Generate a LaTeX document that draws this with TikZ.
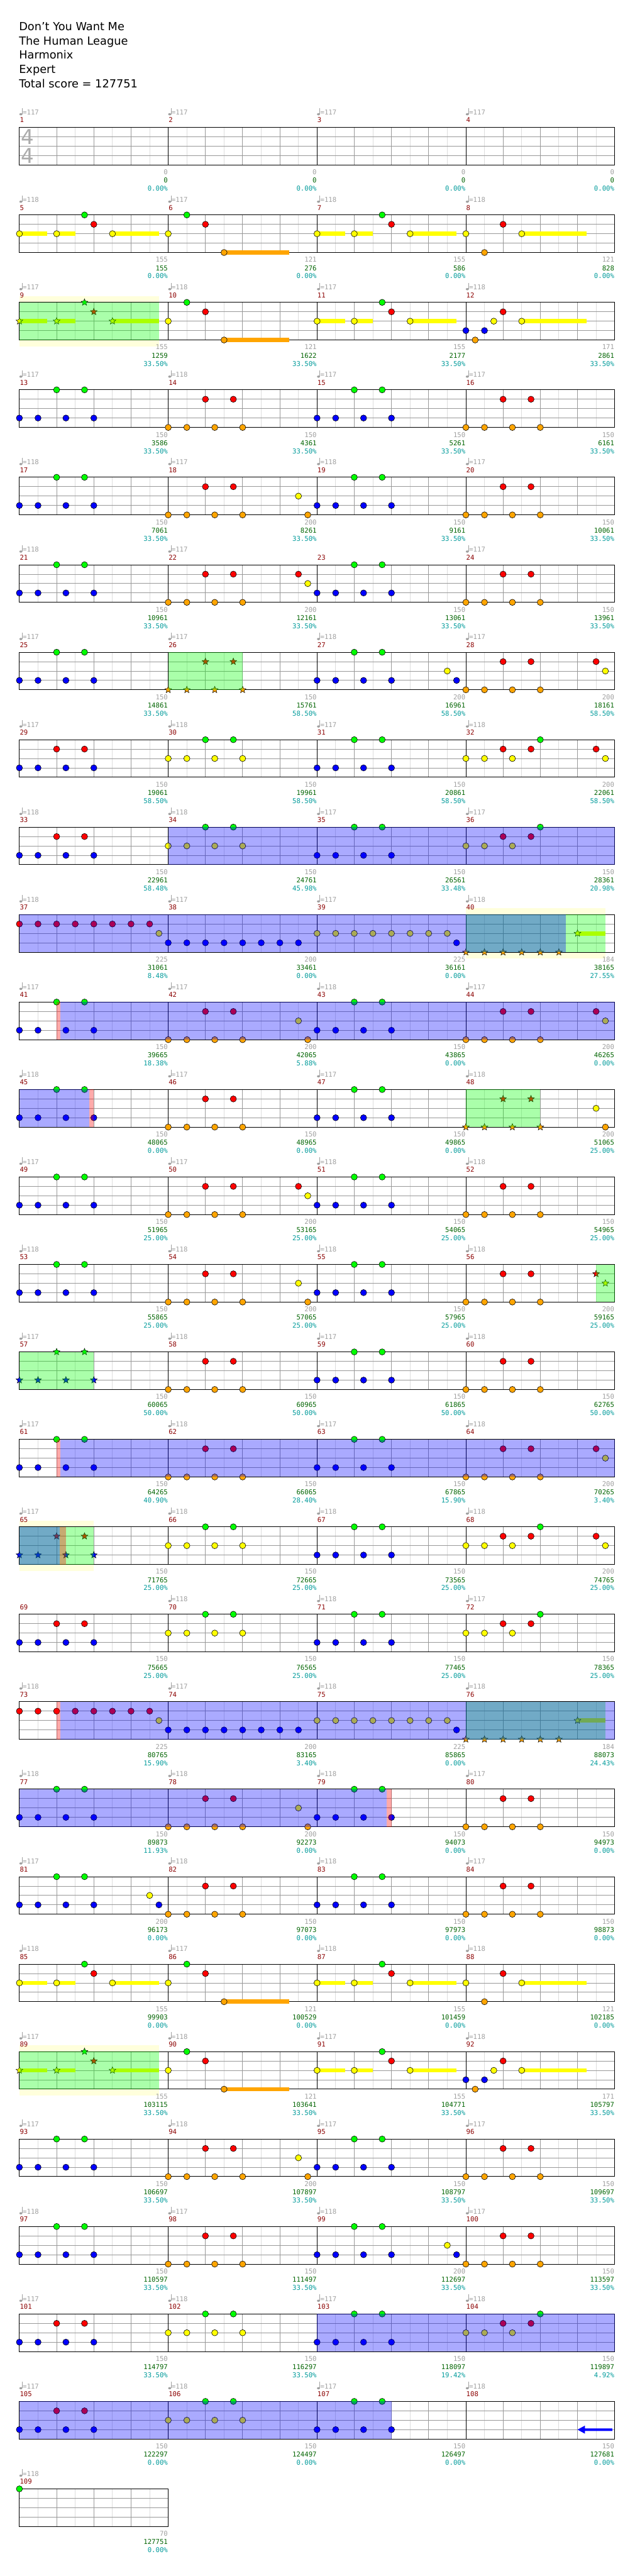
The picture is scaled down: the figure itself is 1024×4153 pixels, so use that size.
\documentclass[tikz,border=0pt]{standalone}
\usepackage{fontspec}
\setmainfont{DejaVu Sans}
\newfontfamily\chartmono{DejaVu Sans Mono}
\usetikzlibrary{shapes.geometric}
\definecolor{fret0}{RGB}{0,255,0}
\definecolor{fret1}{RGB}{255,0,0}
\definecolor{fret2}{RGB}{255,255,0}
\definecolor{fret3}{RGB}{0,0,255}
\definecolor{fret4}{RGB}{255,165,0}
\definecolor{barnum}{RGB}{139,0,0}
\definecolor{tempogray}{RGB}{160,160,160}
\definecolor{scoregreen}{RGB}{0,100,0}
\definecolor{pctcyan}{RGB}{0,155,155}
\definecolor{bandyellow}{RGB}{255,255,220}
\definecolor{eighthgray}{RGB}{221,221,221}
\definecolor{quartergray}{RGB}{153,153,153}

% measure -> top left corner of its staff
\newcommand{\setmeasure}[1]{%
  \pgfmathtruncatemacro\mcol{mod(#1-1,4)}%
  \pgfmathtruncatemacro\mrow{(#1-1)/4}%
  \pgfmathsetmacro\mx{31.3+240*\mcol}%
  \pgfmathsetmacro\my{205.5+141*\mrow}}
\newcommand{\gems}[2]{\setmeasure{#1}\edef\gemlist{#2}%
  \foreach \gl/\gt in \gemlist {\draw[gem,fill=fret\gl] (\mx+15*\gt,\my+15.15*\gl) circle[radius=5pt];}}
\newcommand{\stargems}[2]{\setmeasure{#1}\edef\gemlist{#2}%
  \foreach \gl/\gt in \gemlist {\node[spstar,fill=fret\gl] at (\mx+15*\gt,\my+15.15*\gl) {};}}
\newcommand{\sustain}[4]{\setmeasure{#1}%
  \fill[fret#2] (\mx+15*#3,\my+15.15*#2-3.4) rectangle (\mx+15*#4,\my+15.15*#2+3.4);}
\newcommand{\zone}[4]{\setmeasure{#1}%
  \fill[#4,fill opacity=0.333] (\mx+15*#2,\my) rectangle (\mx+15*#3,\my+60.6);}
\newcommand{\band}[3]{\setmeasure{#1}%
  \fill[bandyellow] (\mx+15*#2,\my-10) rectangle (\mx+15*#3,\my+70.8);}
\newcommand{\mlabels}[5]{\setmeasure{#1}%
  \ifnum#2>0\relax
    \fill[tempogray] (\mx+2.3,\my-21.3) ellipse[x radius=2.4pt,y radius=1.8pt];
    \draw[tempogray,line width=0.8pt] (\mx+4.4,\my-21.3) -- (\mx+4.4,\my-31.5);
    \node[smalltext,anchor=base west,text=tempogray] at (\mx+5.2,\my-20.4) {=#2};
  \fi
  \node[smalltext,anchor=base west,text=barnum] at (\mx+0.5,\my-7.8) {#1};
  \node[smalltext,anchor=base east,text=tempogray] at (\mx+239.5,\my+76.2) {#3};
  \node[smalltext,anchor=base east,text=scoregreen] at (\mx+239.5,\my+89.5) {#4};
  \node[smalltext,anchor=base east,text=pctcyan] at (\mx+239.5,\my+102.6) {#5\%};}
\newcommand{\riffA}{3/0,3/2,3/5,3/8,0/4,0/7}
\newcommand{\riffB}{4/0,4/2,4/5,4/8,1/4,1/7}
\newcommand{\riffC}{3/0,3/2,3/5,3/8,1/4,1/7}
\newcommand{\riffD}{2/0,2/2,2/5,2/8,0/4,0/7}
\newcommand{\riffE}{2/0,2/2,2/5,1/4,1/7,0/8}
\newcommand{\riffF}{2/0,2/4,0/7,1/8,2/10}

\begin{document}
\begin{tikzpicture}[x=1pt,y=-1pt,
  gem/.style={draw=black,line width=0.6pt},
  spstar/.style={star,star points=5,star point ratio=2.3,minimum size=11.5pt,inner sep=0pt,draw=black,line width=0.5pt},
  smalltext/.style={inner sep=0pt,font=\chartmono\fontsize{10.8}{12}\selectfont},
  titletext/.style={anchor=base west,inner sep=0pt,font=\fontsize{18}{22}\selectfont}]
\useasboundingbox[fill=white] (0,0) rectangle (1024,4153);

\node[titletext] (song) at (30.5,49.3) {Don't You Want Me};
\node[titletext] (artist) at (30.5,72.3) {The Human League};
\node[titletext] (charter) at (30.5,95.3) {Harmonix};
\node[titletext] (level) at (30.5,118.3) {Expert};
\node[titletext] (total) at (30.5,141.3) {Total score = 127751};

% star power bands behind the staves
\band{9}{0}{15}
\band{40}{0}{15}
\band{65}{0}{8}
\band{89}{0}{15}

% staves
\foreach \r in {0,...,27}{
  \pgfmathsetmacro\yt{205.5+141*\r}
  \ifnum\r<27 \def\xe{991.3}\def\kq{15}\def\ke{31}\def\km{3}\else \def\xe{271.3}\def\kq{3}\def\ke{7}\def\km{0}\fi
  \fill[white] (31.3,\yt) rectangle (\xe,\yt+60.6);
  \foreach \k in {1,3,...,\ke} \draw[eighthgray,line width=0.9pt] (31.3+30*\k,\yt) -- ++(0,60.6);
  \foreach \k in {1,...,\kq} \draw[quartergray,line width=0.9pt] (31.3+60*\k,\yt) -- ++(0,60.6);
  \foreach \k in {1,2,3} \draw[quartergray,line width=0.9pt] (31.3,\yt+15.15*\k) -- (\xe,\yt+15.15*\k);
  \ifnum\km>0 \foreach \k in {1,...,\km} \draw[black,line width=0.9pt] (31.3+240*\k,\yt) -- ++(0,60.6); \fi
  \draw[black,line width=1pt] (31.3,\yt) rectangle (\xe,\yt+60.6);
}
\node[text=black!33,font=\fontsize{33}{33}\selectfont,inner sep=0pt] (numer) at (44.7,221) {4};
\node[text=black!33,font=\fontsize{33}{33}\selectfont,inner sep=0pt] (denom) at (44.7,250.7) {4};

% measure labels
\foreach \m/\tp/\a/\b/\c in {1/117/0/0/0.00,2/117/0/0/0.00,3/117/0/0/0.00,4/117/0/0/0.00,
  5/118/155/155/0.00,6/117/121/276/0.00,7/118/155/586/0.00,8/118/121/828/0.00,
  9/117/155/1259/33.50,10/118/121/1622/33.50,11/117/155/2177/33.50,12/118/171/2861/33.50,
  13/117/150/3586/33.50,14/118/150/4361/33.50,15/117/150/5261/33.50,16/117/150/6161/33.50,
  17/118/150/7061/33.50,18/117/200/8261/33.50,19/118/150/9161/33.50,20/117/150/10061/33.50,
  21/118/150/10961/33.50,22/117/200/12161/33.50,23/0/150/13061/33.50,24/117/150/13961/33.50,
  25/117/150/14861/33.50,26/117/150/15761/58.50,27/118/200/16961/58.50,28/117/200/18161/58.50,
  29/117/150/19061/58.50,30/118/150/19961/58.50,31/117/150/20861/58.50,32/118/200/22061/58.50,
  33/118/150/22961/58.48,34/118/150/24761/45.98,35/117/150/26561/33.48,36/117/150/28361/20.98,
  37/118/225/31061/8.48,38/117/200/33461/0.00,39/117/225/36161/0.00,40/118/184/38165/27.55,
  41/117/150/39665/18.38,42/117/200/42065/5.88,43/118/150/43865/0.00,44/117/200/46265/0.00,
  45/118/150/48065/0.00,46/117/150/48965/0.00,47/117/150/49865/0.00,48/118/200/51065/25.00,
  49/117/150/51965/25.00,50/117/200/53165/25.00,51/118/150/54065/25.00,52/118/150/54965/25.00,
  53/118/150/55865/25.00,54/118/200/57065/25.00,55/118/150/57965/25.00,56/118/200/59165/25.00,
  57/117/150/60065/50.00,58/118/150/60965/50.00,59/117/150/61865/50.00,60/118/150/62765/50.00,
  61/117/150/64265/40.90,62/118/150/66065/28.40,63/117/150/67865/15.90,64/118/200/70265/3.40,
  65/117/150/71765/25.00,66/118/150/72665/25.00,67/118/150/73565/25.00,68/118/200/74765/25.00,
  69/0/150/75665/25.00,70/118/150/76565/25.00,71/118/150/77465/25.00,72/117/150/78365/25.00,
  73/118/225/80765/15.90,74/117/200/83165/3.40,75/118/225/85865/0.00,76/118/184/88073/24.43,
  77/118/150/89873/11.93,78/118/200/92273/0.00,79/118/150/94073/0.00,80/117/150/94973/0.00,
  81/117/200/96173/0.00,82/118/150/97073/0.00,83/118/150/97973/0.00,84/117/150/98873/0.00,
  85/118/155/99903/0.00,86/117/121/100529/0.00,87/118/155/101459/0.00,88/118/121/102185/0.00,
  89/117/155/103115/33.50,90/118/121/103641/33.50,91/117/155/104771/33.50,92/118/171/105797/33.50,
  93/117/150/106697/33.50,94/118/200/107897/33.50,95/117/150/108797/33.50,96/117/150/109697/33.50,
  97/118/150/110597/33.50,98/117/150/111497/33.50,99/118/200/112697/33.50,100/117/150/113597/33.50,
  101/117/150/114797/33.50,102/118/150/116297/33.50,103/117/150/118097/19.42,104/118/150/119897/4.92,
  105/117/150/122297/0.00,106/118/150/124497/0.00,107/117/150/126497/0.00,108/118/150/127681/0.00,
  109/118/70/127751/0.00}
  \mlabels{\m}{\tp}{\a}{\b}{\c};

% measures 5-12
\sustain{5}{2}{0}{3}\sustain{5}{2}{4}{6}\sustain{5}{2}{10}{15}
\gems{5}{\riffF}
\sustain{6}{4}{6}{13}
\gems{6}{2/0,0/2,1/4,4/6}
\sustain{7}{2}{0}{3}\sustain{7}{2}{4}{6}\sustain{7}{2}{10}{15}
\gems{7}{\riffF}
\sustain{8}{2}{6}{13}
\gems{8}{2/0,4/2,1/4,2/6}
\sustain{9}{2}{0}{3}\sustain{9}{2}{4}{6}\sustain{9}{2}{10}{15}
\stargems{9}{\riffF}
\zone{9}{0}{15}{fret0}
\sustain{10}{4}{6}{13}
\gems{10}{2/0,0/2,1/4,4/6}
\sustain{11}{2}{0}{3}\sustain{11}{2}{4}{6}\sustain{11}{2}{10}{15}
\gems{11}{\riffF}
\sustain{12}{2}{6}{13}
\gems{12}{3/0,4/1,3/2,2/3,1/4,2/6}

% measures 13-36
\gems{13}{\riffA}\gems{14}{\riffB}\gems{15}{\riffA}\gems{16}{\riffB}
\gems{17}{\riffA}\gems{18}{\riffB,2/14,4/15}\gems{19}{\riffA}\gems{20}{\riffB}
\gems{21}{\riffA}\gems{22}{\riffB,1/14,2/15}\gems{23}{\riffA}\gems{24}{\riffB}
\gems{25}{\riffA}\stargems{26}{\riffB}\zone{26}{0}{8}{fret0}
\gems{27}{\riffA,2/14,3/15}\gems{28}{\riffB,1/14,2/15}
\gems{29}{\riffC}\gems{30}{\riffD}\gems{31}{\riffA}\gems{32}{\riffE,1/14,2/15}
\gems{33}{\riffC}\gems{34}{\riffD}\gems{35}{\riffA}\gems{36}{\riffE}
\zone{34}{0}{48}{fret3}

% measures 37-60
\gems{37}{1/0,1/2,1/4,1/6,1/8,1/10,1/12,1/14,2/15}
\gems{38}{3/0,3/2,3/4,3/6,3/8,3/10,3/12,3/14}
\gems{39}{2/0,2/2,2/4,2/6,2/8,2/10,2/12,2/14,3/15}
\sustain{40}{2}{12}{15}
\stargems{40}{4/0,4/2,4/4,4/6,4/8,4/10,2/12}
\zone{40}{0}{15}{fret0}\zone{37}{0}{58.75}{fret3}
\gems{41}{\riffA}\gems{42}{\riffB,2/14,4/15}\gems{43}{\riffA}\gems{44}{\riffB,1/14,2/15}
\zone{41}{4}{4.4}{fret1}\zone{41}{4.4}{64}{fret3}
\gems{45}{\riffA}\gems{46}{\riffB}\gems{47}{\riffA}
\stargems{48}{\riffB}\gems{48}{2/14,4/15}
\zone{45}{0}{7.5}{fret3}\zone{45}{7.5}{8}{fret1}\zone{48}{0}{8}{fret0}
\gems{49}{\riffA}\gems{50}{\riffB,1/14,2/15}\gems{51}{\riffA}\gems{52}{\riffB}
\gems{53}{\riffA}\gems{54}{\riffB,2/14,4/15}\gems{55}{\riffA}\gems{56}{\riffB}
\stargems{56}{1/14,2/15}\zone{56}{14}{16}{fret0}
\stargems{57}{\riffA}\zone{57}{0}{8}{fret0}
\gems{58}{\riffB}\gems{59}{\riffA}\gems{60}{\riffB}

% measures 61-84
\gems{61}{\riffA}\gems{62}{\riffB}\gems{63}{\riffA}\gems{64}{\riffB,1/14,2/15}
\zone{61}{4}{4.4}{fret1}\zone{61}{4.4}{64}{fret3}
\stargems{65}{\riffC}
\zone{65}{0}{8}{fret0}\zone{65}{0}{4.35}{fret3}\zone{65}{4.35}{5}{fret1}
\gems{66}{\riffD}\gems{67}{\riffA}\gems{68}{\riffE,1/14,2/15}
\gems{69}{\riffC}\gems{70}{\riffD}\gems{71}{\riffA}\gems{72}{\riffE}
\gems{73}{1/0,1/2,1/4,1/6,1/8,1/10,1/12,1/14,2/15}
\gems{74}{3/0,3/2,3/4,3/6,3/8,3/10,3/12,3/14}
\gems{75}{2/0,2/2,2/4,2/6,2/8,2/10,2/12,2/14,3/15}
\sustain{76}{2}{12}{15}
\stargems{76}{4/0,4/2,4/4,4/6,4/8,4/10,2/12}
\zone{76}{0}{15}{fret0}\zone{73}{4}{4.4}{fret1}\zone{73}{4.4}{64}{fret3}
\gems{77}{\riffA}\gems{78}{\riffB,2/14,4/15}\gems{79}{\riffA}\gems{80}{\riffB}
\zone{77}{0}{39.5}{fret3}\zone{77}{39.5}{40}{fret1}
\gems{81}{\riffA,2/14,3/15}\gems{82}{\riffB}\gems{83}{\riffA}\gems{84}{\riffB}

% measures 85-109
\sustain{85}{2}{0}{3}\sustain{85}{2}{4}{6}\sustain{85}{2}{10}{15}
\gems{85}{\riffF}
\sustain{86}{4}{6}{13}
\gems{86}{2/0,0/2,1/4,4/6}
\sustain{87}{2}{0}{3}\sustain{87}{2}{4}{6}\sustain{87}{2}{10}{15}
\gems{87}{\riffF}
\sustain{88}{2}{6}{13}
\gems{88}{2/0,4/2,1/4,2/6}
\sustain{89}{2}{0}{3}\sustain{89}{2}{4}{6}\sustain{89}{2}{10}{15}
\stargems{89}{\riffF}
\zone{89}{0}{15}{fret0}
\sustain{90}{4}{6}{13}
\gems{90}{2/0,0/2,1/4,4/6}
\sustain{91}{2}{0}{3}\sustain{91}{2}{4}{6}\sustain{91}{2}{10}{15}
\gems{91}{\riffF}
\sustain{92}{2}{6}{13}
\gems{92}{3/0,4/1,3/2,2/3,1/4,2/6}
\gems{93}{\riffA}\gems{94}{\riffB,2/14,4/15}\gems{95}{\riffA}\gems{96}{\riffB}
\gems{97}{\riffA}\gems{98}{\riffB}\gems{99}{\riffA,2/14,3/15}\gems{100}{\riffB}
\gems{101}{\riffC}\gems{102}{\riffD}\gems{103}{\riffA}\gems{104}{\riffE}
\zone{103}{0}{32}{fret3}
\gems{105}{\riffC}\gems{106}{\riffD}\gems{107}{\riffA}
\zone{105}{0}{40}{fret3}
\setmeasure{108}
\fill[fret3] (\mx+180,\my+45.5) -- (\mx+192,\my+39) -- (\mx+192,\my+43.5) -- (\mx+236,\my+43.5)
  -- (\mx+236,\my+47.5) -- (\mx+192,\my+47.5) -- (\mx+192,\my+52) -- cycle;
\gems{109}{0/0}
\end{tikzpicture}
\end{document}
